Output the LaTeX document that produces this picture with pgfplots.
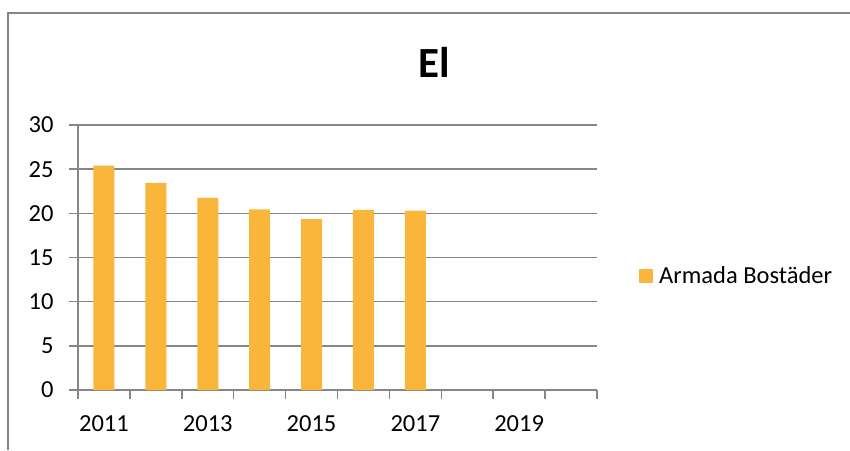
\documentclass[border=0pt]{standalone}
\usepackage{pgfplots}
\pgfplotsset{compat=1.18}
\usepackage{fontspec}
\setmainfont{Carlito}
\definecolor{barc}{RGB}{249,182,58}
\definecolor{gridc}{RGB}{134,134,134}
\begin{document}
\begin{tikzpicture}[x=1pt,y=1pt]
\path[use as bounding box] (0,0) rectangle (850,450);
\draw[gridc, line width=2pt] (8,0) -- (8,437) -- (851,437);
\node[anchor=base, font=\fontsize{43}{50}\selectfont\bfseries] at (434.5,372) {El};
\begin{axis}[
  at={(78pt,60pt)}, anchor=south west,
  scale only axis, width=519pt, height=265pt,
  xmin=-0.5, xmax=9.5, ymin=0, ymax=30,
  axis x line*=bottom, axis y line*=left,
  axis line style={gridc, line width=1.5pt},
  every tick/.style={gridc, line width=1.5pt},
  tick align=outside,
  major tick length=9pt,
  ytick={0,5,...,30},
  ymajorgrids, grid style={gridc, line width=1.5pt},
  xtick={-0.5,0.5,1.5,2.5,3.5,4.5,5.5,6.5,7.5,8.5,9.5},
  xticklabels={},
  extra x ticks={0,2,4,6,8},
  extra x tick labels={2011,2013,2015,2017,2019},
  extra x tick style={grid=none, major tick length=0pt},
  ticklabel style={font=\fontsize{24.5}{29}\selectfont},
  yticklabel style={/pgf/number format/assume math mode=true, xshift=-12pt},
  xticklabel style={yshift=-22pt},
  legend style={at={(1.075,0.43)}, anchor=west, draw=none, fill=none,
    font=\fontsize{24.5}{29}\selectfont},
  legend image code/.code={\fill[barc] (0pt,-7pt) rectangle (14pt,7pt); \path (18pt,0pt);},
]
\addplot[ybar, bar width=21pt, fill=barc, draw=none] coordinates {
(0,25.4) (1,23.45) (2,21.75) (3,20.45) (4,19.35) (5,20.4) (6,20.3)
};
\addlegendentry{Armada Bostäder}
\end{axis}
\end{tikzpicture}
\end{document}
